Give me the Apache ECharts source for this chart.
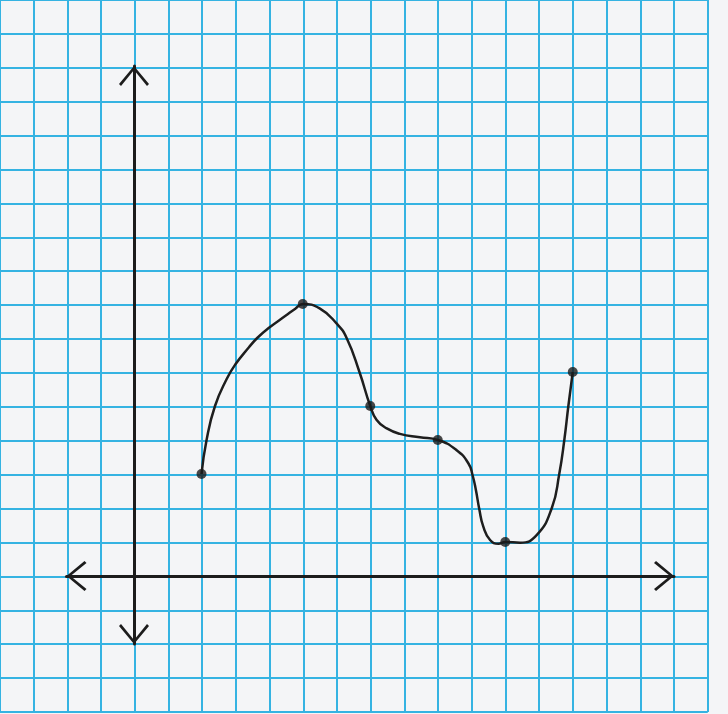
<!DOCTYPE html>
<html>
<head>
<meta charset="utf-8">
<script src="https://cdn.jsdelivr.net/npm/echarts@6/dist/echarts.min.js"></script>
<style>html,body{margin:0;padding:0;background:#f4f5f7;}#c{width:728px;height:714px;}</style>
</head>
<body>
<div id="c"></div>
<script>
// Marked points (grid units)
var pointX = [2, 5, 7, 9, 11, 13];
var pointY = [3, 8, 5, 4, 1, 6];
// Hand-drawn curve (grid units)
var curveX = [2, 2.15, 2.4, 2.75, 3.0, 3.4, 3.65, 4.0, 4.5, 4.78, 5.0, 5.5, 6.0, 6.3, 6.68, 7.0, 7.19, 7.49, 7.88, 8.47, 9.0, 9.56, 9.91, 10.03, 10.13, 10.23, 10.35, 10.55, 10.8, 11.0, 11.44, 11.93, 12.38, 12.6, 12.75, 12.87, 13.0];
var curveY = [3, 4.0, 5.0, 5.8, 6.22, 6.72, 7.0, 7.3, 7.66, 7.86, 8.0, 7.87, 7.43, 7.0, 6.0, 5.0, 4.59, 4.34, 4.18, 4.08, 4.0, 3.7, 3.31, 2.97, 2.53, 1.97, 1.45, 1.06, 0.95, 1.0, 0.98, 1.2, 2.0, 3.0, 4.0, 5.0, 6.0];

var pts = pointX.map(function (x, i) { return [x, pointY[i]]; });
var curve = curveX.map(function (x, i) { return [x, curveY[i]]; });

var chev = 'path://M15,0 L30,18 L28,20 L15,4 L2,20 L0,18 Z';
var paperLine = { show: true, lineStyle: { color: '#35b3e2', width: 2 } };
var axisLineStyle = {
  show: true, onZero: true,
  symbol: [chev, chev], symbolSize: [30, 20], symbolOffset: [10, -10],
  lineStyle: { color: '#1c1c1c', width: 3 }
};

var chart = echarts.init(document.getElementById('c'));
chart.setOption({
  backgroundColor: '#f4f5f7',
  animation: false,
  grid: [
    { left: -1, width: 708.75, top: -2, height: 714, containLabel: false },
    { left: 66.5, width: 607.5, top: 66, height: 578, containLabel: false }
  ],
  xAxis: [
    { gridIndex: 0, type: 'value', min: -4, max: 17, interval: 1, axisLine: { show: false }, axisTick: { show: false }, axisLabel: { show: false }, splitLine: paperLine },
    { gridIndex: 1, type: 'value', min: -2, max: 16, interval: 1, axisLine: axisLineStyle, axisTick: { show: false }, axisLabel: { show: false }, splitLine: { show: false } }
  ],
  yAxis: [
    { gridIndex: 0, type: 'value', min: -4, max: 17, interval: 1, axisLine: { show: false }, axisTick: { show: false }, axisLabel: { show: false }, splitLine: paperLine },
    { gridIndex: 1, type: 'value', min: -2, max: 15, interval: 1, axisLine: axisLineStyle, axisTick: { show: false }, axisLabel: { show: false }, splitLine: { show: false } }
  ],
  series: [
    { type: 'line', xAxisIndex: 1, yAxisIndex: 1, data: curve, smooth: 0.5, showSymbol: false, symbol: 'none', lineStyle: { color: '#1e1e1e', width: 2.5 }, z: 5 },
    { type: 'scatter', xAxisIndex: 1, yAxisIndex: 1, data: pts, symbolSize: 10, itemStyle: { color: '#1a1a1a' }, z: 6 }
  ]
});
</script>
</body>
</html>
